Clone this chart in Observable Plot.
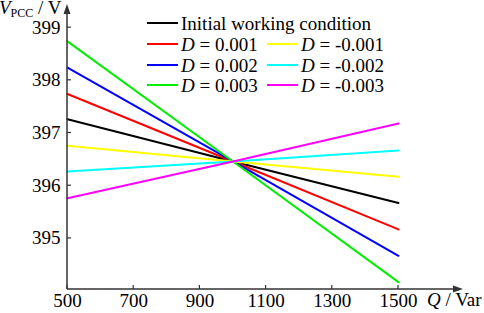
<!DOCTYPE html>
<html><head><meta charset="utf-8">
<script src="https://cdn.jsdelivr.net/npm/d3@7"></script>
<script src="https://cdn.jsdelivr.net/npm/@observablehq/plot@0.6"></script>
<style>body{margin:0;background:#fff;} svg text{font-family:"Liberation Serif","Times New Roman",Times,serif !important;font-weight:normal;}</style>
</head><body><div id="chart"></div>
<script>
const Q = [500, 1000, 1500];
const seriesNames = ["Initial working condition","D = 0.001","D = 0.002","D = 0.003","D = -0.001","D = -0.002","D = -0.003"];
const initial = [397.26, 396.46, 395.67];
const d001 = [397.74, 396.46, 395.17];
const d002 = [398.24, 396.46, 394.67];
const d003 = [398.74, 396.46, 394.17];
const dm001 = [396.76, 396.46, 396.17];
const dm002 = [396.27, 396.46, 396.67];
const dm003 = [395.76, 396.46, 397.18];
const colors = ["#000000","#ff0000","#0000ff","#00ee00","#ffff00","#00ffff","#ff00ff"];
const xTicks = [500, 700, 900, 1100, 1300, 1500];
const yTicks = [395, 396, 397, 398, 399];

const FONT = "Liberation Serif";
const allSeries = [initial, d001, d002, d003, dm001, dm002, dm003];
const rows = [];
allSeries.forEach((vals, i) => vals.forEach((v, j) => rows.push({series: seriesNames[i], q: Q[j], v})));

const plot = Plot.plot({
  width: 484, height: 313,
  marginLeft: 67, marginRight: 86, marginTop: 5, marginBottom: 24,
  style: {fontFamily: FONT, fontSize: "19px", color: "#000"},
  x: {domain: [500, 1500]},
  y: {domain: [394.03, 399.42]},
  color: {domain: seriesNames, range: colors},
  marks: [
    Plot.axisX(xTicks, {tickSize: 0, tickPadding: 4, fontSize: 19, fontFamily: FONT, label: null, fill: "#000", tickFormat: d => String(d)}),
    Plot.axisY(yTicks, {tickSize: 0, tickPadding: 7, fontSize: 19, fontFamily: FONT, label: null, fill: "#000", tickFormat: d => String(d)}),
    Plot.line(rows, {x: "q", y: "v", z: "series", stroke: "series", strokeWidth: 2})
  ]
});
document.getElementById("chart").appendChild(plot);

const svg = d3.select(plot).style("font-family", FONT);
const sx = plot.scale("x"), sy = plot.scale("y");
const x0 = sx.apply(500), y0 = sy.apply(394.03);
const axisColor = "#333";
const g = svg.append("g").attr("font-family", FONT).attr("text-anchor", "start").attr("font-weight", "normal");
// axis lines with arrows
g.append("line").attr("x1", x0).attr("x2", 457).attr("y1", y0).attr("y2", y0).attr("stroke", axisColor).attr("stroke-width", 1.5);
g.append("path").attr("d", `M463,${y0} L453,${y0-3.5} L453,${y0+3.5} Z`).attr("fill", axisColor);
g.append("line").attr("x1", x0).attr("x2", x0).attr("y1", y0).attr("y2", 10).attr("stroke", axisColor).attr("stroke-width", 1.5);
g.append("path").attr("d", `M${x0},4 L${x0-3.5},14 L${x0+3.5},14 Z`).attr("fill", axisColor);
// inward ticks
xTicks.forEach(t => g.append("line").attr("x1", sx.apply(t)).attr("x2", sx.apply(t)).attr("y1", y0).attr("y2", y0-4).attr("stroke", axisColor).attr("stroke-width", 1.2));
yTicks.forEach(t => g.append("line").attr("x1", x0).attr("x2", x0+4).attr("y1", sy.apply(t)).attr("y2", sy.apply(t)).attr("stroke", axisColor).attr("stroke-width", 1.2));

// axis labels
const yl = g.append("text").attr("x", -1).attr("y", 14).attr("font-size", 19).attr("fill", "#000");
yl.append("tspan").attr("font-style", "italic").text("V");
yl.append("tspan").attr("font-size", 12).attr("dy", 3).text("PCC");
yl.append("tspan").attr("dy", -3).text(" / V");
const xl = g.append("text").attr("x", 427).attr("y", 306).attr("font-size", 19).attr("fill", "#000");
xl.append("tspan").attr("font-style", "italic").text("Q");
xl.append("tspan").text(" / Var");

// legend
const leg = [
  {i: 0, x: 147, y: 23},
  {i: 1, x: 147, y: 44}, {i: 2, x: 147, y: 65}, {i: 3, x: 147, y: 85},
  {i: 4, x: 267, y: 44}, {i: 5, x: 267, y: 65}, {i: 6, x: 267, y: 85}
];
leg.forEach(({i, x, y}) => {
  g.append("line").attr("x1", x).attr("x2", x + 31).attr("y1", y).attr("y2", y).attr("stroke", colors[i]).attr("stroke-width", 2);
  const t = g.append("text").attr("x", x + 34).attr("y", y + 6.5).attr("font-size", 19).attr("fill", "#000");
  const name = seriesNames[i];
  if (name.startsWith("D")) {
    t.append("tspan").attr("font-style", "italic").text("D");
    t.append("tspan").text(name.slice(1));
  } else t.text(name);
});
</script></body></html>
